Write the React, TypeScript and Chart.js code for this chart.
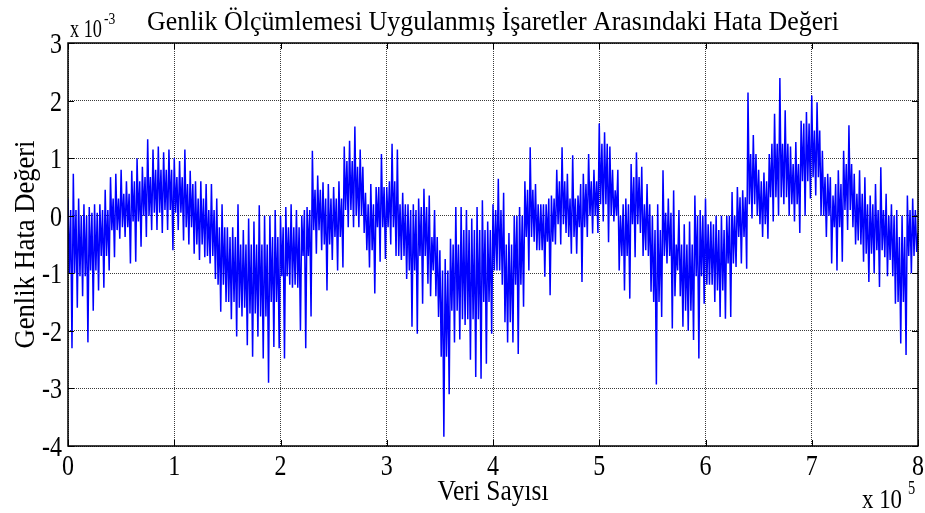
import React, { useEffect, useRef } from "react";
import { Chart, registerables } from "chart.js";
Chart.register(...registerables);

const BIN_SAMPLES = 5000; // each entry of the peak arrays covers 5000 samples
const upperPeaks = [
  0.3, 0.73, 0.3, 0.2, 0.15, 0.2, 0.2, 0.45, 0.67, 0.73,
  0.8, 0.6, 0.78, 1.0, 0.85, 1.33, 1.15, 1.2, 1.1, 1.15,
  1.0, 0.95, 1.15, 0.78, 0.6, 0.6, 0.55, 0.55, 0.3, 0.2,
  -0.2, -0.2, 0.2, -0.25, -0.05, -0.1, 0.18, 0.0, 0.0, 0.1,
  0.0, 0.15, 0.2, 0.1, 0.0, 0.15, 1.13, 0.7, 0.58, 0.55,
  0.5, 0.6, 1.2, 1.3, 1.55, 1.15, 0.4, 0.55, 0.5, 1.07,
  0.5, 1.25, 1.15, 0.4, 0.2, 0.2, 0.3, 0.47, 0.35, 0.1,
  -0.6, -0.75, -0.4, 0.15, 0.15, 0.1, -0.05, 0.15, 0.27, -0.1,
  0.2, 0.64, 0.4, -0.3, 0.0, 0.15, 0.6, 1.19, 0.55, 0.2,
  0.2, 0.35, 0.8, 1.19, 0.73, 1.05, 0.35, 0.73, 1.07, 0.8,
  1.6, 1.45, 1.2, 0.44, 0.0, 0.3, 0.9, 1.1, 0.85, 0.55,
  0.0, 0.2, 0.79, 0.3, 0.44, 0.1, -0.15, -0.1, 0.35, 0.1,
  0.3, -0.1, 0.0, 0.0, 0.0, 0.41, 0.5, 0.44, 2.14, 1.4,
  0.8, 0.75, 1.07, 1.77, 2.39, 1.83, 1.2, 1.28, 1.65, 1.8,
  2.09, 1.97, 1.13, 0.73, 0.35, 0.79, 1.13, 1.57, 0.73, 0.79,
  0.67, 0.35, 0.55, 0.84, 0.38, 0.2, 0.1, 0.0, 0.35, 0.3,
];
const lowerPeaks = [
  -2.3, -1.6, -1.4, -2.2, -1.65, -1.3, -1.25, -0.95, -0.72, -0.4,
  -0.37, -0.83, -0.8, -0.54, -0.37, -0.25, -0.25, -0.3, -0.25, -0.6,
  -0.25, -0.43, -0.5, -0.66, -0.77, -0.72, -0.83, -1.1, -1.67, -1.5,
  -1.8, -2.1, -1.75, -2.25, -2.45, -2.1, -2.48, -2.9, -2.28, -2.3,
  -2.48, -1.2, -1.2, -2.0, -2.3, -1.75, -0.66, -0.6, -1.3, -0.77,
  -0.95, -0.9, -0.2, -0.2, -0.2, -0.3, -0.9, -1.35, -0.8, -0.75,
  -0.5, -0.7, -0.77, -1.1, -1.93, -2.05, -1.53, -1.18, -0.95, -1.76,
  -3.84, -3.1, -2.2, -2.15, -1.9, -2.5, -2.8, -2.83, -2.57, -2.05,
  -0.95, -1.2, -2.2, -2.2, -2.4, -1.58, -0.95, -0.45, -0.6, -1.06,
  -1.38, -0.5, -0.5, -0.3, -0.66, -0.66, -1.15, -0.37, -0.31, -0.3,
  -0.1, -0.46, -0.1, -0.95, -1.3, -1.44, -0.72, -0.3, -0.6, -1.32,
  -2.93, -1.76, -0.83, -1.96, -0.95, -1.93, -2.0, -2.16, -2.48, -1.53,
  -1.2, -1.5, -1.76, -1.79, -1.76, -0.89, -0.83, -0.92, -0.05, 0.0,
  -0.37, -0.4, -0.1, 0.0, 0.2, 0.0, -0.1, -0.3, 0.0, 0.3,
  0.35, 0.0, -0.37, -0.83, -0.95, -0.8, -0.25, -0.2, -0.43, -0.8,
  -1.15, -1.0, -1.24, -0.72, -0.77, -1.53, -2.22, -2.42, -1.0, -0.63,
];
// Dense core band, one entry per 10000 samples
const coreUpper = [
  0.1, 0.0, 0.05, 0.1, 0.3, 0.38, 0.6, 0.67, 0.8, 0.8,
  0.67, 0.55, 0.3, 0.1, -0.2, -0.37, -0.5, -0.5, -0.5, -0.37,
  -0.2, -0.2, 0.1, 0.45, 0.3, 0.3, 0.95, 0.85, 0.2, 0.5,
  0.6, 0.2, 0.1, 0.15, -0.37, -0.95, -0.5, -0.25, -0.25, -0.25,
  0.1, -0.5, 0.0, 0.45, 0.2, 0.3, 0.6, 0.3, 0.55, 0.6,
  1.25, 0.8, 0.2, 0.67, 0.2, -0.25, 0.05, -0.5, -0.5, 0.0,
  -0.15, -0.25, 0.0, 0.32, 1.07, 0.6, 1.25, 1.25, 0.9, 1.6,
  1.48, 0.67, 0.55, 0.9, 0.38, 0.2, 0.1, 0.0, -0.37, 0.1,
];
const coreLower = [
  -1.0, -1.05, -0.95, -0.7, -0.25, -0.2, -0.1, 0.0, 0.05, 0.1,
  0.05, -0.2, -0.5, -0.7, -1.2, -1.5, -1.6, -1.7, -1.75, -1.5,
  -1.05, -1.25, -0.7, -0.25, -0.5, -0.37, 0.1, 0.0, -0.6, -0.2,
  -0.2, -0.7, -0.95, -0.7, -1.4, -2.45, -1.65, -1.8, -1.8, -1.5,
  -0.95, -1.85, -1.2, -0.37, -0.6, -0.45, -0.15, -0.37, -0.2, 0.0,
  0.2, 0.0, -0.7, -0.15, -0.7, -1.5, -0.7, -1.4, -1.65, -1.05,
  -1.2, -1.3, -0.83, -0.37, 0.2, -0.15, 0.32, 0.32, 0.2, 0.6,
  0.67, 0.0, -0.2, 0.1, -0.5, -0.66, -0.6, -1.05, -1.5, -0.7,
];
const lastValue = -0.3;

const xTickValues = [0, 100000, 200000, 300000, 400000, 500000, 600000, 700000, 800000];
const xTickLabels = ["0", "1", "2", "3", "4", "5", "6", "7", "8"];
const yTickValues = [-4, -3, -2, -1, 0, 1, 2, 3];
const yTickLabels = ["-4", "-3", "-2", "-1", "0", "1", "2", "3"];

const titleText = "Genlik Ölçümlemesi Uygulanmış İşaretler Arasındaki Hata Değeri";
const xTitle = "Veri Sayısı";
const yTitle = "Genlik Hata Değeri";

const SERIF = '"Liberation Serif", "Times New Roman", serif';

function buildPoints() {
  const pts: { x: number; y: number }[] = [];
  for (let i = 0; i < upperPeaks.length; i++) {
    const x0 = i * BIN_SAMPLES;
    const c = Math.floor(i / 2);
    const step = BIN_SAMPLES / 4;
    pts.push({ x: x0, y: upperPeaks[i] });
    pts.push({ x: x0 + step, y: coreLower[c] });
    pts.push({ x: x0 + step * 2, y: coreUpper[c] });
    pts.push({ x: x0 + step * 3, y: lowerPeaks[i] });
  }
  pts.push({ x: upperPeaks.length * BIN_SAMPLES, y: lastValue });
  return pts;
}

function drawText(
  ctx: CanvasRenderingContext2D,
  s: string,
  x: number,
  y: number,
  size: number,
  align: "left" | "center" | "right",
  sx: number,
  targetWidth?: number
) {
  ctx.save();
  ctx.font = `${size}px ${SERIF}`;
  ctx.textBaseline = "alphabetic";
  ctx.textAlign = "left";
  const raw = ctx.measureText(s).width;
  const scaleX = targetWidth ? targetWidth / raw : sx;
  const w = raw * scaleX;
  const left = align === "center" ? x - w / 2 : align === "right" ? x - w : x;
  ctx.translate(left, y);
  ctx.scale(scaleX, 1);
  ctx.fillStyle = "#000";
  ctx.fillText(s, 0, 0);
  ctx.restore();
}

const decorPlugin = {
  id: "matlabDecor",
  afterDraw(chart: any) {
    const ctx: CanvasRenderingContext2D = chart.ctx;
    const { left, right, top, bottom } = chart.chartArea;
    const xs = chart.scales.x;
    const ys = chart.scales.y;

    // box
    ctx.save();
    ctx.strokeStyle = "#000";
    ctx.lineWidth = 1.5;
    ctx.strokeRect(left, top, right - left, bottom - top);
    // inward ticks
    ctx.lineWidth = 1;
    ctx.beginPath();
    xTickValues.forEach((v) => {
      const px = Math.round(xs.getPixelForValue(v)) + 0.5;
      ctx.moveTo(px, bottom);
      ctx.lineTo(px, bottom - 6);
      ctx.moveTo(px, top);
      ctx.lineTo(px, top + 6);
    });
    yTickValues.forEach((v) => {
      const py = Math.round(ys.getPixelForValue(v)) + 0.5;
      ctx.moveTo(left, py);
      ctx.lineTo(left + 6, py);
      ctx.moveTo(right, py);
      ctx.lineTo(right - 6, py);
    });
    ctx.stroke();
    ctx.restore();

    // tick labels
    xTickValues.forEach((v, i) => {
      drawText(ctx, xTickLabels[i], xs.getPixelForValue(v), bottom + 29, 30, "center", 0.8);
    });
    yTickValues.forEach((v, i) => {
      drawText(ctx, yTickLabels[i], left - 6, ys.getPixelForValue(v) + 10, 30, "right", 0.8);
    });

    // multipliers
    drawText(ctx, "x 10", left + 2, top - 6, 26, "left", 0.7, 32);
    drawText(ctx, "-3", left + 36, top - 19, 17, "left", 0.8);
    drawText(ctx, "x 10", right - 56, 508, 28, "left", 0.8, 40);
    drawText(ctx, "5", right - 10, 494, 18, "left", 0.8);

    // title
    drawText(ctx, titleText, (left + right) / 2, 30, 28, "center", 0.8, 692);
    // x axis title
    drawText(ctx, xTitle, (left + right) / 2, 500, 30, "center", 0.8, 111);
    // y axis title (rotated)
    ctx.save();
    ctx.translate(34, (top + bottom) / 2);
    ctx.rotate(-Math.PI / 2);
    drawText(ctx, yTitle, 0, 0, 30, "center", 0.8, 208);
    ctx.restore();
  },
};

export default function App() {
  const canvasRef = useRef<HTMLCanvasElement | null>(null);

  useEffect(() => {
    if (!canvasRef.current) return;
    const chart = new Chart(canvasRef.current, {
      type: "line",
      data: {
        datasets: [
          {
            data: buildPoints(),
            borderColor: "#0000ff",
            borderWidth: 1.5,
            pointRadius: 0,
            tension: 0,
            fill: false,
          },
        ],
      },
      options: {
        animation: false,
        responsive: true,
        maintainAspectRatio: false,
        parsing: false as any,
        layout: { padding: { left: 68, right: 7, top: 43, bottom: 67 } },
        plugins: {
          legend: { display: false },
          tooltip: { enabled: false },
          title: { display: false },
        },
        scales: {
          x: {
            type: "linear",
            min: 0,
            max: 800000,
            ticks: { display: false, stepSize: 100000 },
            grid: { color: "#3a3a3a", lineWidth: 1, drawTicks: false },
            border: { display: false, dash: [1, 1] },
          },
          y: {
            type: "linear",
            min: -4,
            max: 3,
            ticks: { display: false, stepSize: 1 },
            grid: { color: "#3a3a3a", lineWidth: 1, drawTicks: false },
            border: { display: false, dash: [1, 1] },
          },
        },
      },
      plugins: [decorPlugin],
    });
    return () => chart.destroy();
  }, []);

  return (
    <div style={{ position: "fixed", left: 0, top: 0, width: 925, height: 513, background: "#fff" }}>
      <canvas ref={canvasRef} />
    </div>
  );
}
